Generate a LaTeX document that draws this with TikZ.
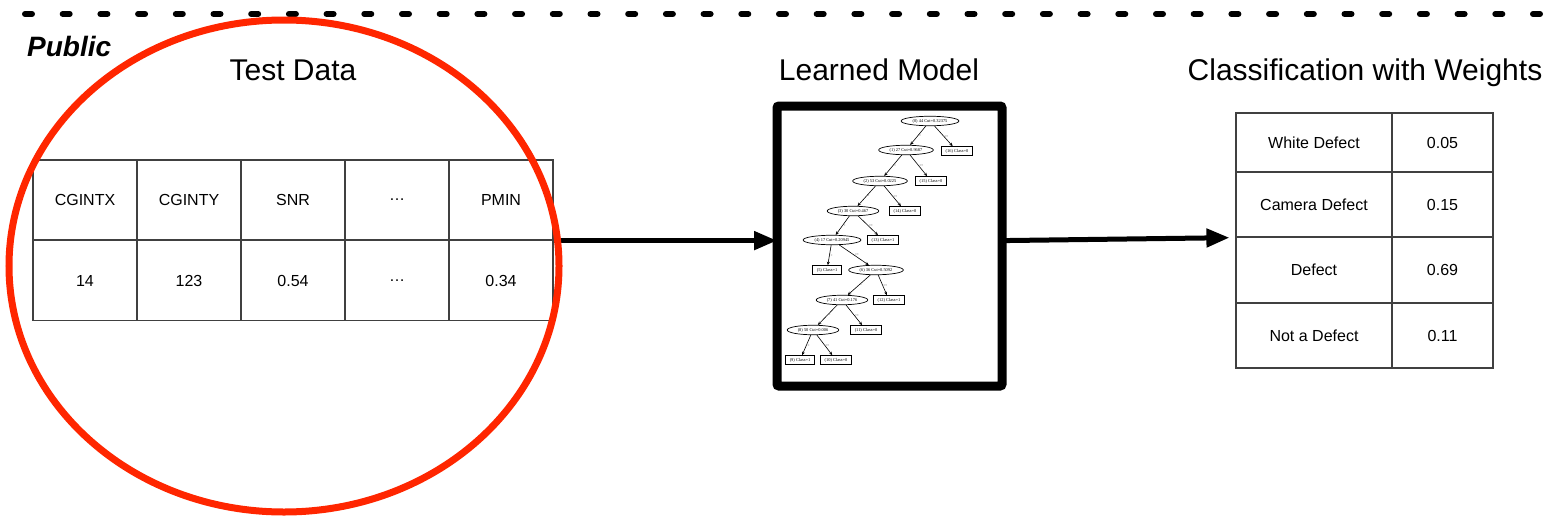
\documentclass[tikz,border=0pt]{standalone}
\usepackage{fontspec}
\newfontfamily\helv{Liberation Sans}
\newfontfamily\treeserif{Liberation Serif}
\usetikzlibrary{arrows.meta,shapes.geometric}
\definecolor{ringred}{RGB}{255,38,0}
\newcommand{\treefont}{\treeserif\fontsize{4.4}{5}\selectfont}

\tikzset{
  cell/.style={draw=black!75, line width=1.2pt, minimum width=104pt, minimum height=80pt,
    inner sep=0pt, font=\helv\fontsize{16}{18}\selectfont},
  heading/.style={anchor=base, inner sep=0pt, font=\helv\fontsize{30}{32}\selectfont},
  split/.style={ellipse, draw, line width=0.7pt, inner xsep=3pt, inner ysep=0.3pt,
    minimum height=9.5pt, font=\treefont},
  leaf/.style={rectangle, draw, line width=0.7pt, inner xsep=4pt, inner ysep=0.5pt,
    minimum height=9pt, font=\treefont},
  treeedge/.style={line width=0.6pt, -{Stealth[length=3.5pt,width=3pt]}},
  elab/.style={right, inner sep=0.8pt, font=\treeserif\fontsize{3.2}{3.5}\selectfont},
  bigarrow/.style={line width=5pt, -{Triangle[length=23pt,width=18pt]}},
  redring/.style={draw=ringred, line width=7pt}
}

\begin{document}
\begin{tikzpicture}[x=1pt,y=-1pt]
  \useasboundingbox (0,0) rectangle (1551,517);

  % public boundary
  \coordinate (dl) at (25,14);
  \coordinate (dr) at (1540,14);
  \draw[line width=6pt, line cap=round, dash pattern=on 7pt off 30.7pt] (dl) -- (dr);
  \node[anchor=base west, inner sep=0pt, font=\helv\bfseries\itshape\fontsize{28}{30}\selectfont]
    (public) at (27,56) {Public};

  % headings
  \node[heading] (ttest) at (293,80) {Test Data};
  \node[heading] (tmodel) at (879,80) {Learned Model};
  \node[heading] (tclass) at (1365,80) {Classification with Weights};

  % test data table
  \foreach \lab/\val [count=\i] in {CGINTX/14,CGINTY/123,SNR/0.54,…/…,PMIN/0.34}
  {
    \node[cell] (h\i) at ({33+104*(\i-0.5)},200) {\lab};
    \node[cell] (v\i) at ({33+104*(\i-0.5)},280.5) {\val};
  }

  % learned model
  \node[draw, line width=9pt, rounded corners=2pt, outer sep=0pt, minimum width=225pt,
    minimum height=280pt] (model) at (889.5,246) {};

  \node[split] (n0) at (930,121) {(0) 44 Cut=0.32375};
  \node[leaf] (n16) at (957,151) {(16) Class=0};
  \node[split] (n1) at (906,150) {(1) 27 Cut=0.9687};
  \node[leaf] (n15) at (931,181) {(15) Class=0};
  \node[split] (n2) at (880,181) {(2) 53 Cut=0.0225};
  \node[leaf] (n14) at (905,211) {(14) Class=0};
  \node[split] (n3) at (853,211) {(3) 30 Cut=0.467};
  \node[leaf] (n13) at (883,240) {(13) Class=1};
  \node[split] (n4) at (832,240) {(4) 17 Cut=0.20945};
  \node[leaf] (n5) at (827,270) {(5) Class=1};
  \node[split] (n6) at (876,270) {(6) 36 Cut=0.5092};
  \node[leaf] (n12) at (889,300) {(12) Class=1};
  \node[split] (n7) at (842,300) {(7) 41 Cut=0.176};
  \node[leaf] (n11) at (866,330) {(11) Class=0};
  \node[split] (n8) at (813,330) {(8) 50 Cut=0.006};
  \node[leaf] (n9) at (800,360) {(9) Class=1};
  \node[leaf] (n10) at (836,360) {(10) Class=0};

  \foreach \from/\to in {n0/n1,n1/n2,n2/n3,n3/n4,n4/n5,n6/n7,n7/n8,n8/n9}
    \draw[treeedge] (\from) -- node[elab] {<} (\to);
  \foreach \from/\to in {n0/n16,n1/n15,n2/n14,n3/n13,n4/n6,n6/n12,n7/n11,n8/n10}
    \draw[treeedge] (\from) -- node[elab] {>=} (\to);

  % classification table
  \foreach \lab/\val/\y/\h [count=\i] in {White Defect/0.05/142.5/59,Camera Defect/0.15/204.5/65,
      Defect/0.69/270/66,Not a Defect/0.11/335.5/65}
  {
    \node[cell, minimum width=156pt, minimum height=\h pt] (cn\i) at (1314,\y) {\lab};
    \node[cell, minimum width=101pt, minimum height=\h pt] (cv\i) at (1442.5,\y) {\val};
  }

  % arrows
  \draw[bigarrow] (h5.south east) -- (model.west |- h5.south east);
  \draw[bigarrow, shorten >=6pt] (model.east |- h5.south east) -- (cn2.south west);

  % public data
  \draw[redring] (284,266) ellipse [x radius=275pt, y radius=246pt];
\end{tikzpicture}
\end{document}
